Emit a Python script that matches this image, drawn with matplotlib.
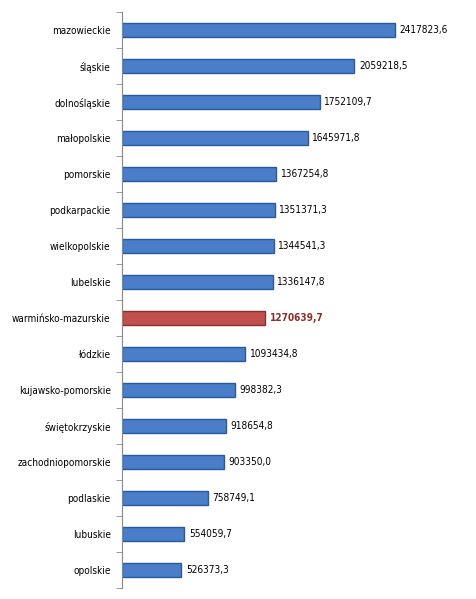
import matplotlib
matplotlib.use("Agg")
import matplotlib.pyplot as plt

regions = ["mazowieckie","śląskie","dolnośląskie","małopolskie","pomorskie","podkarpackie",
           "wielkopolskie","lubelskie","warmińsko-mazurskie","łódzkie","kujawsko-pomorskie",
           "świętokrzyskie","zachodniopomorskie","podlaskie","lubuskie","opolskie"]
values = [2417823.6,2059218.5,1752109.7,1645971.8,1367254.8,1351371.3,1344541.3,1336147.8,
          1270639.7,1093434.8,998382.3,918654.8,903350.0,758749.1,554059.7,526373.3]
highlight = "warmińsko-mazurskie"

fs = 7.2
fig = plt.figure(figsize=(4.76,5.99), dpi=100)
ax = fig.add_axes([0.256, 0.018, 0.744, 0.962])
n = len(regions)
ys = list(range(n))[::-1]
colors = ["#C0504D" if r == highlight else "#4A7EC9" for r in regions]
edges = ["#8B2E2B" if r == highlight else "#2A5A9E" for r in regions]
ax.barh(ys, values, height=0.4, color=colors, edgecolor=edges, linewidth=1.0)
for y, v, r in zip(ys, values, regions):
    lab = f"{v:.1f}".replace(".", ",")
    if r == highlight:
        ax.text(v + 40000, y, lab, va="center", ha="left", fontsize=fs, color="#8B2E2B",
                fontweight="bold", fontstretch="condensed")
    else:
        ax.text(v + 40000, y, lab, va="center", ha="left", fontsize=fs, color="black",
                fontstretch="condensed")
ax.set_xlim(0, 3135000)
ax.set_ylim(-0.5, n - 0.5)
ax.set_yticks(ys)
ax.set_yticklabels(regions, fontsize=fs, fontstretch="condensed")
ax.tick_params(axis="y", length=0, pad=8)
ax.set_yticks([i + 0.5 for i in range(-1, n)], minor=True)
ax.tick_params(axis="y", which="minor", length=4, color="#888888")
ax.set_xticks([])
for s in ["top", "right", "bottom"]:
    ax.spines[s].set_visible(False)
ax.spines["left"].set_color("#888888")
fig.savefig("out.png", dpi=100)
